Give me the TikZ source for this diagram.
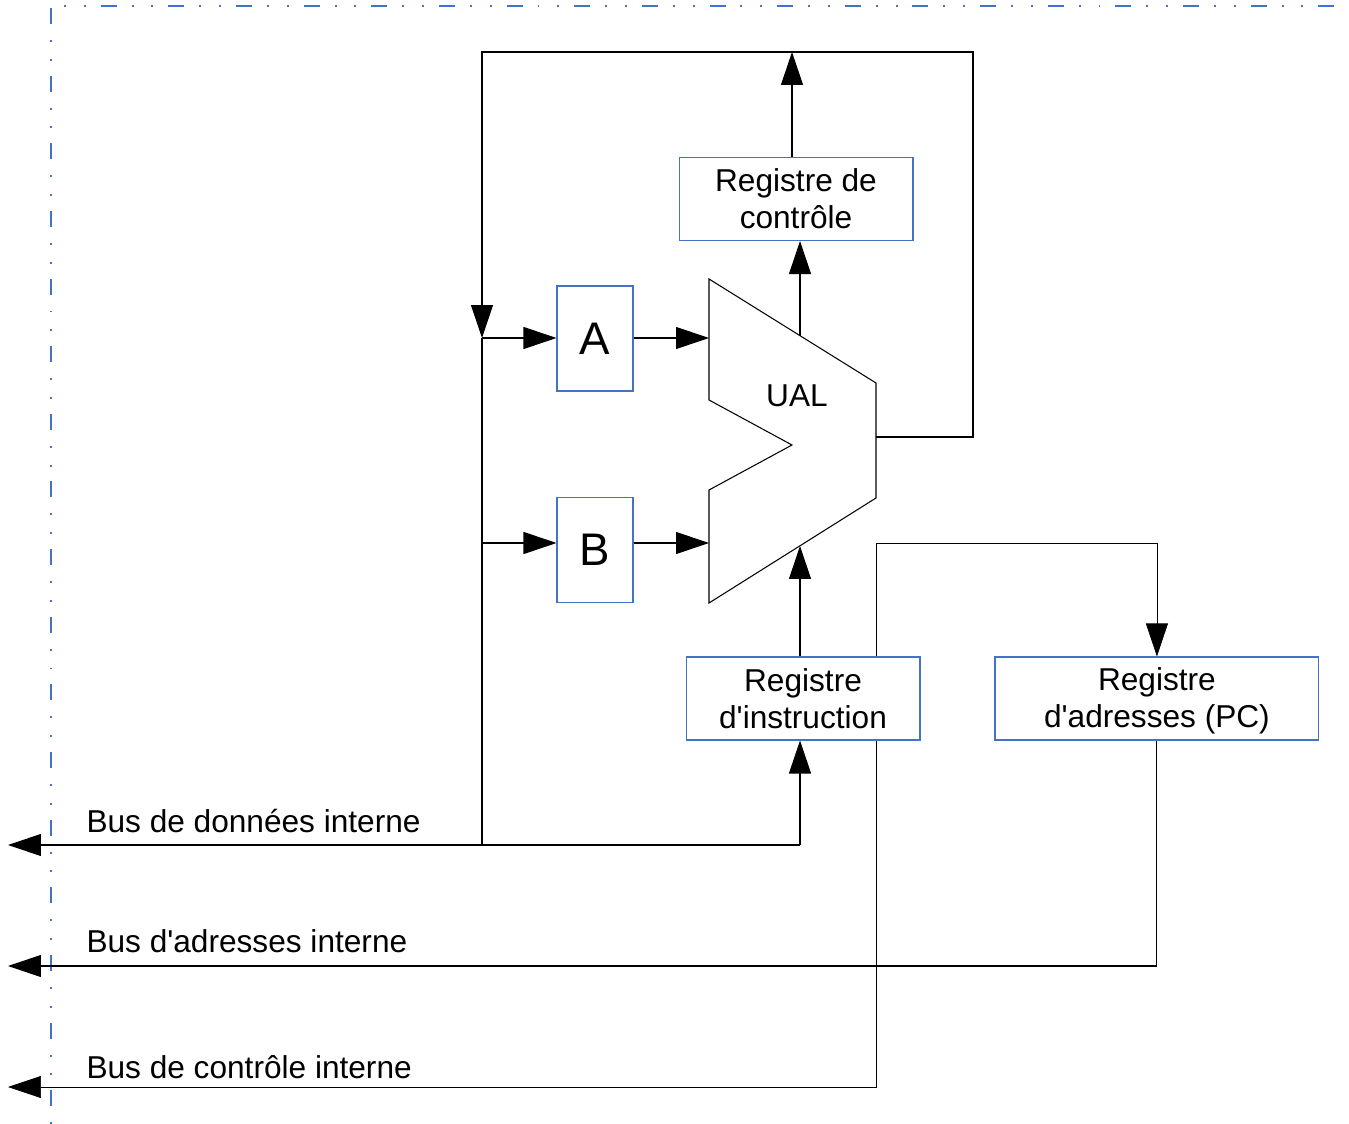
\documentclass[tikz,border=0pt]{standalone}
\usepackage{fontspec}
\setmainfont{Liberation Sans}[Ligatures=TeXOff]
\usepackage{tikz}
\usetikzlibrary{positioning,arrows.meta,backgrounds}
\definecolor {boxblue}{RGB}{68,114,196}

\begin{document}
\begin{tikzpicture}[x=0.02cm, y=-0.02cm, on grid, line width=0.6pt,
	>={Triangle[length=0.66cm, width=0.44cm]},
	font=\fontsize{18}{21}\selectfont,
	reg/.style ={ rectangle, draw=boxblue, fill=white, align=center, inner sep=0pt,
		minimum width=4.68cm, minimum height=1.66cm},
	small/.style ={ rectangle, draw=boxblue, fill=white, inner sep=0pt,
		font=\fontsize{26}{30}\selectfont, minimum width=1.52cm, minimum height=2.1cm},
	buslabel/.style ={ anchor=base west, inner sep=0pt},
	frame/.style ={ draw=boxblue, line width=0.8pt}]
	\useasboundingbox (0,0) rectangle (1349,1124);
	% cadre
	\draw[frame, dash pattern=on 1.1pt off 10.2pt on 1.1pt off 8.5pt on 9.1pt off 8.5pt] (64,6) -- (1349,6);
	\draw[frame, dash pattern=on 9.1pt off 9.1pt on 1.1pt off 9.6pt on 1.1pt off 8.5pt] (51,8) -- (51,1124);
	% registres
	\node[small] (A) at (595,338.5) {A};
	\node[small] (B) [below = 4.23cm of A] {B};
	\node[reg] (rc) at (796,199) {Registre de\\contrôle};
	\node[reg] (ri) at (803,698.5) {Registre\\d'instruction};
	\node[reg, minimum width=6.48cm] (ra) [right = 7.08cm of ri]
		{\raisebox{-0.06cm}[\height][\depth]{\begin{tabular}{@{}c@{}}Registre\\d'adresses (PC)\end{tabular}}};
	% UAL
	\draw (709,279) -- (876,383) -- (876,498) -- (709,603) -- (709,490) -- (792,445) -- (709,400) -- cycle;
	\node (ual) at (797,396) {UAL};
	\coordinate (inA) at (709,338);
	\coordinate (inB) at (709,543);
	\coordinate (out) at (876,437);
	\coordinate (ualtop) at (800,336);
	\coordinate (ualbot) at (800,546);
	% points des bus
	\coordinate (jA) at (482,338);
	\coordinate (jB) at (482,543);
	\coordinate (loop) at (973,52);
	\coordinate (topc) at (792,52);
	\coordinate (dbus) at (800,845);
	\coordinate (dend) at (8,845);
	\coordinate (aend) at (8,966);
	\coordinate (cend) at (8,1087);
	\coordinate (cc) at (876,543);
	\draw[->] (jA) -- (A.west |- jA);
	\draw[->] (jB) -- (B.west |- jB);
	\draw[->] (A.east |- inA) -- (inA);
	\draw[->] (B.east |- inB) -- (inB);
	\draw[->] (ualtop) -- (ualtop |- rc.south);
	\draw[->] (rc.north -| topc) -- (topc);
	\draw[->] (out) -| (loop) -- (jA |- loop) -- (jA);
	\draw (jA) -- (jA |- dend);
	\draw[->] (dbus) -- (dend);
	\draw[->] (dbus) -- (ri.south -| dbus);
	\draw[->] (ri.north -| ualbot) -- (ualbot);
	\draw[->] (ra.south) |- (aend);
	\begin{scope}[on background layer]
		\draw[<->] (cend) -| (cc) -| (ra.north);
	\end{scope}
	% bus
	\node[buslabel] (ldata) at (86,832) {Bus de données interne};
	\node[buslabel] (laddr) at (86,952) {Bus d'adresses interne};
	\node[buslabel] (lctrl) at (86,1078) {Bus de contrôle interne};
\end{tikzpicture}
\end{document}
